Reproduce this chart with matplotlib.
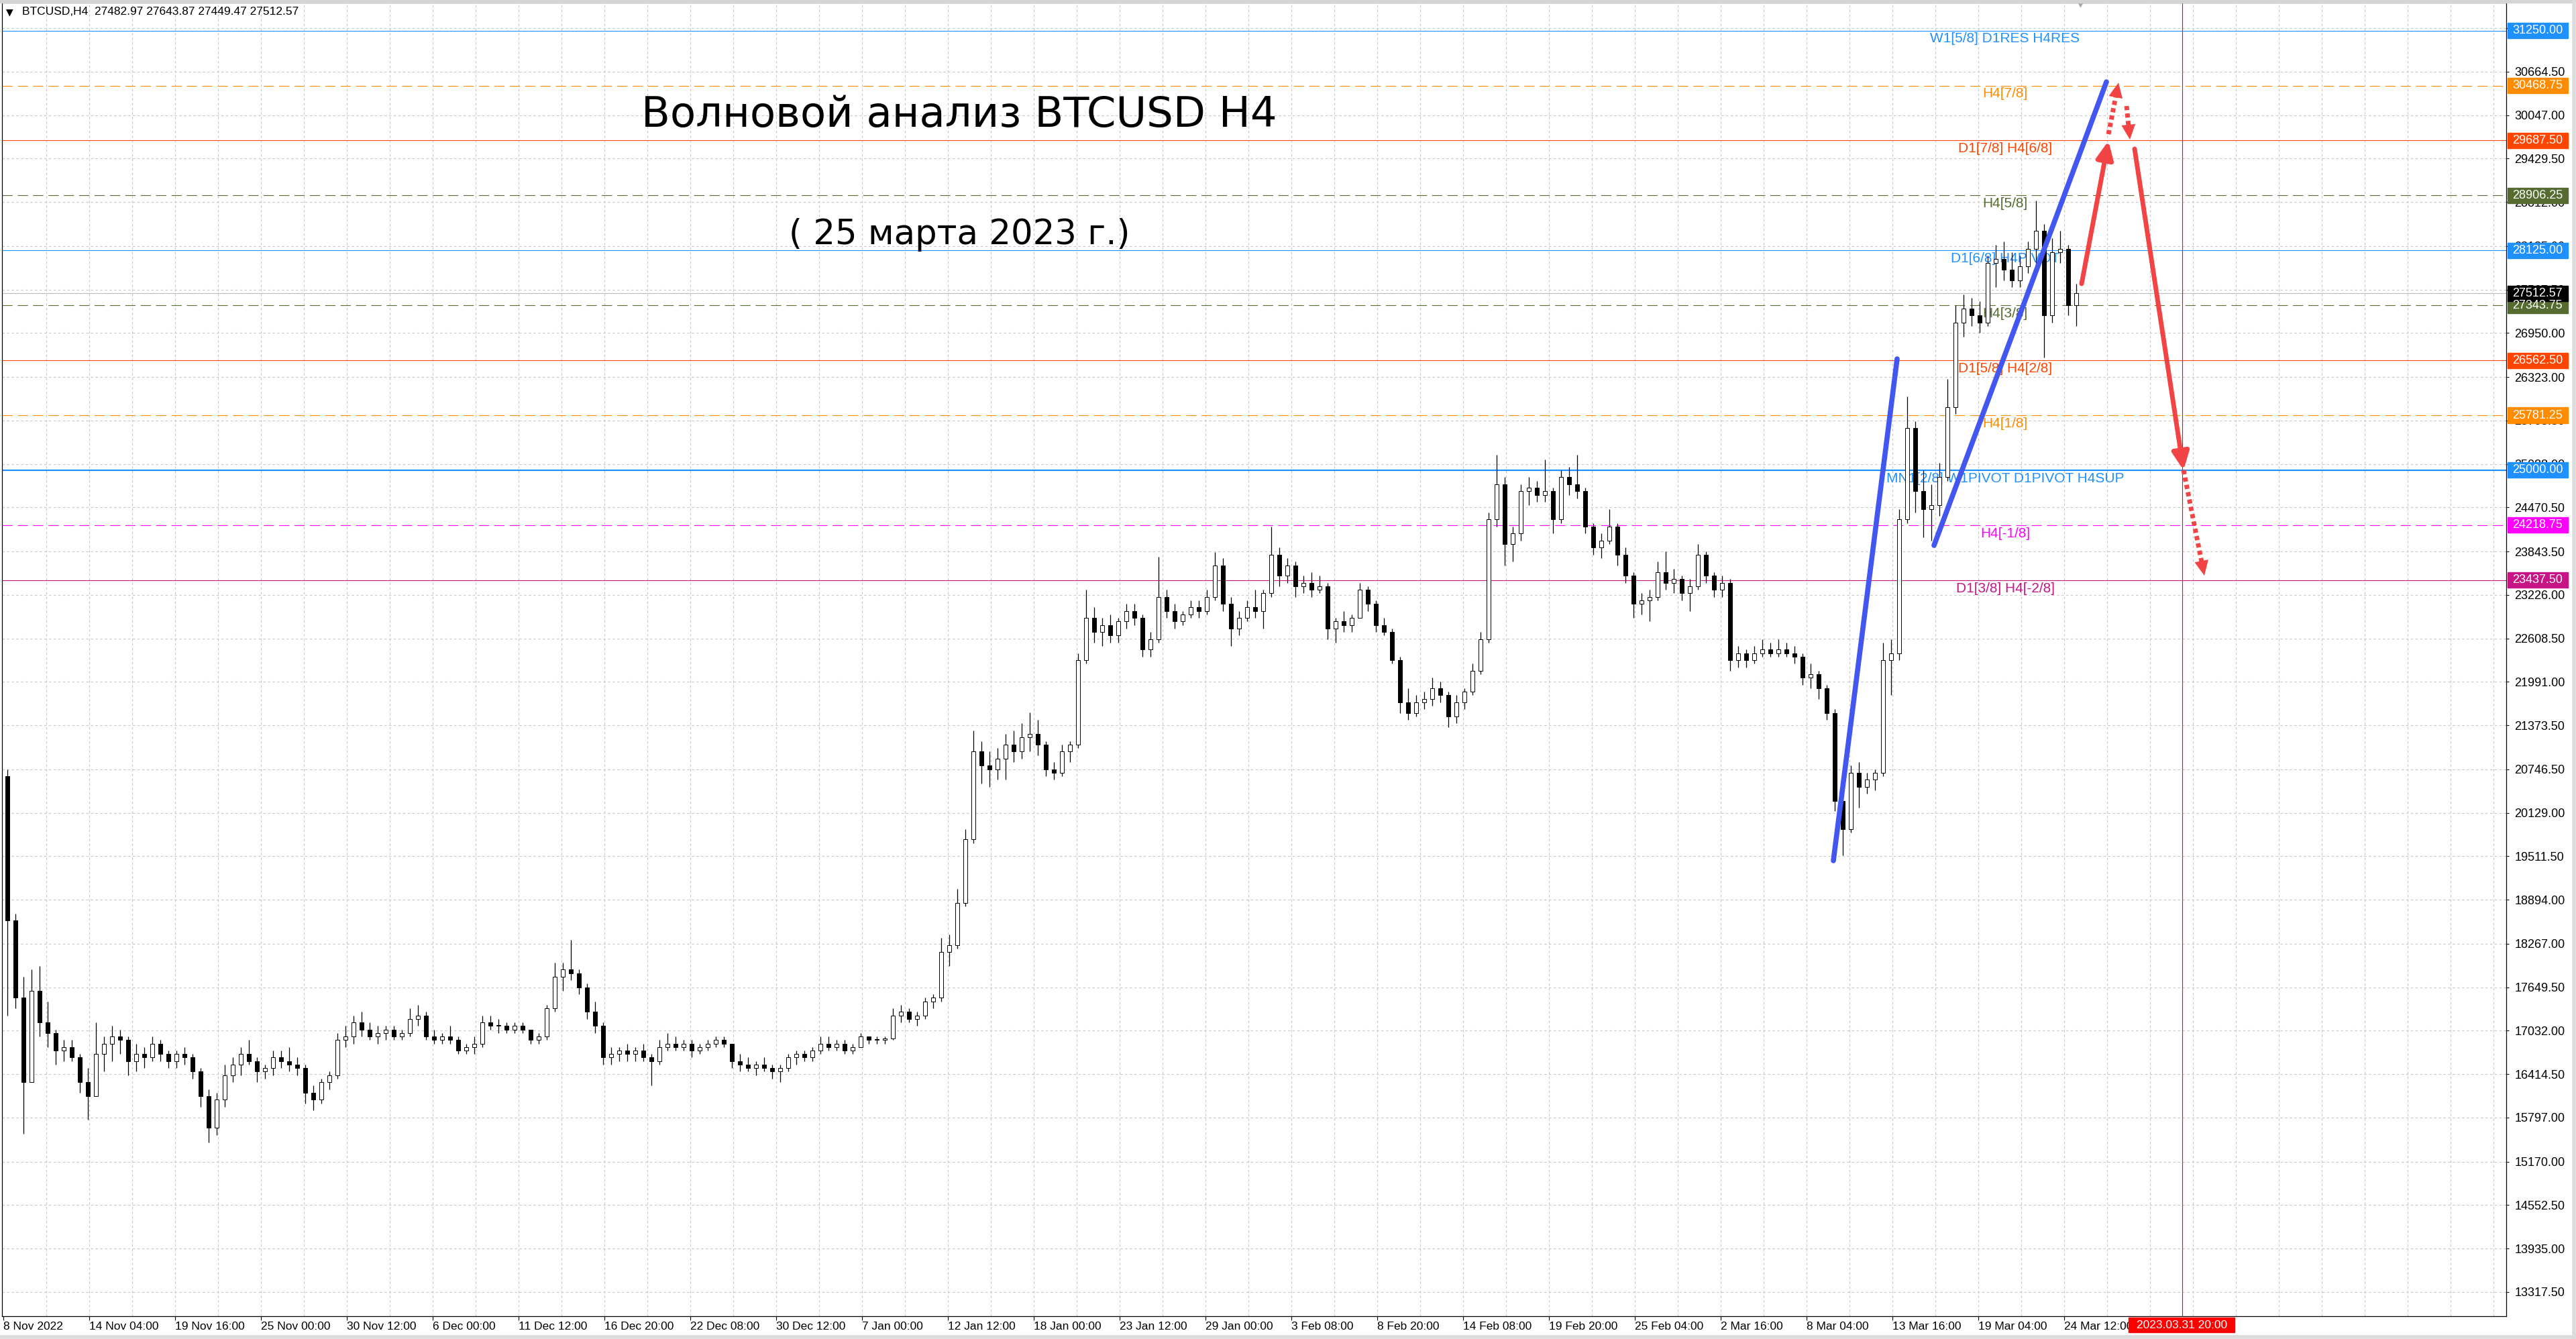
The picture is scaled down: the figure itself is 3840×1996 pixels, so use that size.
import matplotlib
matplotlib.use("Agg")
import matplotlib.pyplot as plt
from matplotlib.patches import Rectangle, FancyArrowPatch
from matplotlib.lines import Line2D
from matplotlib.transforms import blended_transform_factory

plt.rcParams['font.family'] = ['Liberation Sans', 'DejaVu Sans']
plt.rcParams['lines.scale_dashes'] = False

opens = [20650, 18600, 17500, 16300, 17600, 17150, 17000, 16750, 16800, 16650,
         16300, 16100, 16700, 16850, 16950, 16900, 16600, 16700, 16650, 16850,
         16700, 16600, 16700, 16650, 16450, 16100, 15650, 16050, 16400, 16550,
         16700, 16600, 16450, 16500, 16650, 16600, 16550, 16500, 16150, 16050,
         16300, 16400, 16900, 16950, 17150, 17050, 16950, 17000, 17050, 16950,
         17000, 17200, 17250, 16950, 16900, 16950, 16900, 16750, 16800, 16850,
         17150, 17100, 17100, 17050, 17100, 17050, 16900, 16950, 17350, 17800,
         17900, 17850, 17650, 17300, 17100, 16650, 16700, 16750, 16700, 16750,
         16650, 16600, 16800, 16850, 16800, 16850, 16750, 16800, 16850, 16900,
         16850, 16600, 16550, 16500, 16550, 16500, 16450, 16500, 16650, 16700,
         16650, 16750, 16850, 16800, 16850, 16750, 16800, 16950, 16900, 16900,
         16920, 17250, 17300, 17200, 17250, 17450, 17500, 18150, 18250, 18850,
         19750, 21000, 20800, 20750, 20900, 21100, 21000, 21200, 21250, 21100,
         20750, 20700, 21000, 21100, 22300, 22900, 22700, 22800, 22650, 22850,
         23000, 22900, 22450, 22600, 23200, 23000, 22850, 22950, 23050, 23000,
         23200, 23650, 23100, 22750, 22900, 23050, 23000, 23250, 23800, 23500,
         23650, 23350, 23400, 23300, 23350, 22750, 22850, 22800, 22900, 23300,
         23100, 22800, 22700, 22300, 21700, 21550, 21700, 21750, 21900, 21800,
         21500, 21700, 21850, 22150, 22600, 24300, 24800, 23950, 24100, 24700,
         24750, 24650, 24700, 24300, 24900, 24800, 24700, 24200, 23900, 24000,
         24200, 23800, 23500, 23100, 23150, 23200, 23550, 23400, 23450, 23250,
         23350, 23800, 23500, 23300, 23400, 22300, 22400, 22300, 22400, 22450,
         22400, 22450, 22400, 22350, 22050, 22100, 21900, 21550, 20300, 19900,
         20700, 20500, 20600, 20700, 22300, 22400, 24300, 25600, 24700, 24450,
         24500, 24900, 25900, 27100, 27300, 27200, 27100, 27950, 28000, 27850,
         27700, 27900, 28150, 28400, 27200, 28100, 28150, 27350]
highs = [20750, 18700, 17800, 17900, 17950, 17450, 17050, 16900, 16900, 16700,
         16500, 17150, 16950, 17100, 17050, 16950, 16850, 16800, 16950, 16900,
         16750, 16750, 16800, 16700, 16500, 16200, 16150, 16550, 16650, 16800,
         16900, 16650, 16550, 16750, 16750, 16800, 16650, 16550, 16250, 16350,
         16450, 17000, 17100, 17250, 17300, 17150, 17100, 17100, 17100, 17050,
         17350, 17400, 17300, 17050, 17000, 17100, 16950, 16850, 16950, 17250,
         17250, 17200, 17150, 17150, 17150, 17050, 17000, 17400, 18000, 18000,
         18320, 17900, 17700, 17450, 17150, 16800, 16800, 16850, 16800, 16850,
         16700, 16900, 17000, 16950, 16900, 16900, 16850, 16900, 16950, 16950,
         16850, 16700, 16650, 16600, 16650, 16550, 16550, 16700, 16750, 16750,
         16800, 16950, 16950, 16900, 16900, 16850, 17000, 16950, 16950, 16950,
         17350, 17400, 17350, 17300, 17500, 17550, 18350, 18400, 19050, 19900,
         21300, 21150, 21000, 21050, 21250, 21300, 21400, 21560, 21450, 21150,
         20850, 21100, 21150, 22400, 23300, 23050, 22900, 22950, 22900, 23100,
         23100, 22950, 22700, 23770, 23300, 23100, 23000, 23150, 23150, 23300,
         23840, 23750, 23200, 23000, 23150, 23300, 23300, 24200, 23900, 23750,
         23700, 23500, 23550, 23500, 23400, 22900, 23000, 22950, 23400, 23350,
         23150, 22900, 22750, 22350, 21900, 21800, 21850, 22050, 22000, 21850,
         21800, 21900, 22250, 22700, 24400, 25220, 24900, 24200, 24800, 24900,
         24850, 25150, 24750, 25000, 25050, 25220, 24750, 24250, 24100, 24450,
         24250, 23900, 23550, 23250, 23300, 23700, 23850, 23600, 23500, 23450,
         23950, 23850, 23550, 23500, 23450, 22500, 22450, 22500, 22600, 22550,
         22600, 22550, 22500, 22400, 22250, 22150, 21950, 21600, 20500, 20800,
         20850, 20700, 20750, 22550, 22600, 24450, 26050, 25700, 25000, 24800,
         25100, 26300, 27350, 27500, 27450, 27400, 28050, 28200, 28250, 28100,
         28050, 28250, 28830, 28500, 28300, 28400, 28200, 27650]
lows = [17250, 17350, 15570, 16300, 16950, 16800, 16550, 16600, 16600, 16150,
        15770, 16100, 16450, 16600, 16700, 16400, 16450, 16500, 16600, 16600,
        16500, 16500, 16550, 16350, 15950, 15440, 15550, 15950, 16300, 16400,
        16550, 16300, 16350, 16400, 16500, 16450, 16400, 16000, 15900, 16000,
        16200, 16350, 16800, 16850, 16950, 16900, 16850, 16900, 16900, 16900,
        16950, 17100, 16900, 16850, 16850, 16850, 16700, 16700, 16700, 16800,
        17050, 17000, 17000, 17000, 17000, 16850, 16850, 16900, 17300, 17600,
        17750, 17550, 17200, 17000, 16550, 16550, 16600, 16600, 16600, 16600,
        16250, 16550, 16750, 16750, 16750, 16650, 16700, 16750, 16800, 16800,
        16500, 16450, 16450, 16400, 16450, 16350, 16300, 16450, 16550, 16600,
        16600, 16700, 16750, 16750, 16700, 16700, 16800, 16850, 16850, 16850,
        16900, 17150, 17150, 17100, 17200, 17350, 17450, 17950, 18200, 18800,
        19700, 20550, 20500, 20600, 20600, 20850, 20900, 21000, 20950, 20650,
        20600, 20650, 20850, 21050, 22250, 22550, 22500, 22550, 22550, 22750,
        22800, 22350, 22350, 22550, 22900, 22750, 22800, 22900, 22900, 22950,
        23150, 23000, 22500, 22650, 22850, 22900, 22750, 23200, 23350, 23400,
        23200, 23250, 23200, 23250, 22600, 22550, 22700, 22700, 22900, 23000,
        22700, 22650, 22250, 21550, 21450, 21500, 21600, 21650, 21700, 21350,
        21400, 21600, 21800, 22100, 22550, 24200, 23650, 23700, 24000, 24500,
        24550, 24550, 24100, 24250, 24650, 24600, 24100, 23800, 23750, 23950,
        23650, 23400, 22900, 22950, 22850, 23150, 23300, 23250, 23150, 23000,
        23300, 23400, 23200, 23200, 22150, 22200, 22200, 22250, 22350, 22350,
        22350, 22350, 22250, 21950, 21900, 21750, 21450, 20150, 19530, 19850,
        20200, 20400, 20450, 20650, 21800, 22300, 24250, 24400, 24050, 24000,
        24350, 24850, 25800, 26900, 27050, 26950, 27050, 27600, 27700, 27600,
        27600, 27800, 27850, 26600, 27100, 27950, 27200, 27050]
closes = [18600, 17500, 16300, 17600, 17150, 17000, 16750, 16800, 16650, 16300,
          16100, 16700, 16850, 16950, 16900, 16600, 16700, 16650, 16850, 16700,
          16600, 16700, 16650, 16450, 16100, 15650, 16050, 16400, 16550, 16700,
          16600, 16450, 16500, 16650, 16600, 16550, 16500, 16150, 16050, 16300,
          16400, 16900, 16950, 17150, 17050, 16950, 17000, 17050, 16950, 17000,
          17200, 17250, 16950, 16900, 16950, 16900, 16750, 16800, 16850, 17150,
          17100, 17100, 17050, 17100, 17050, 16900, 16950, 17350, 17800, 17900,
          17850, 17650, 17300, 17100, 16650, 16700, 16750, 16700, 16750, 16650,
          16600, 16800, 16850, 16800, 16850, 16750, 16800, 16850, 16900, 16850,
          16600, 16550, 16500, 16550, 16500, 16450, 16500, 16650, 16700, 16650,
          16750, 16850, 16800, 16850, 16750, 16800, 16950, 16900, 16900, 16920,
          17250, 17300, 17200, 17250, 17450, 17500, 18150, 18250, 18850, 19750,
          21000, 20800, 20750, 20900, 21100, 21000, 21200, 21250, 21100, 20750,
          20700, 21000, 21100, 22300, 22900, 22700, 22800, 22650, 22850, 23000,
          22900, 22450, 22600, 23200, 23000, 22850, 22950, 23050, 23000, 23200,
          23650, 23100, 22750, 22900, 23050, 23000, 23250, 23800, 23500, 23650,
          23350, 23400, 23300, 23350, 22750, 22850, 22800, 22900, 23300, 23100,
          22800, 22700, 22300, 21700, 21550, 21700, 21750, 21900, 21800, 21500,
          21700, 21850, 22150, 22600, 24300, 24800, 23950, 24100, 24700, 24750,
          24650, 24700, 24300, 24900, 24800, 24700, 24200, 23900, 24000, 24200,
          23800, 23500, 23100, 23150, 23200, 23550, 23400, 23450, 23250, 23350,
          23800, 23500, 23300, 23400, 22300, 22400, 22300, 22400, 22450, 22400,
          22450, 22400, 22350, 22050, 22100, 21900, 21550, 20300, 19900, 20700,
          20500, 20600, 20700, 22300, 22400, 24300, 25600, 24700, 24450, 24500,
          24900, 25900, 27100, 27300, 27200, 27100, 27950, 28000, 27850, 27700,
          27900, 28150, 28400, 27200, 28100, 28150, 27350, 27512.57]

date_labels = ["8 Nov 2022", "14 Nov 04:00", "19 Nov 16:00", "25 Nov 00:00", "30 Nov 12:00",
               "6 Dec 00:00", "11 Dec 12:00", "16 Dec 20:00", "22 Dec 08:00", "30 Dec 12:00",
               "7 Jan 00:00", "12 Jan 12:00", "18 Jan 00:00", "23 Jan 12:00", "29 Jan 00:00",
               "3 Feb 08:00", "8 Feb 20:00", "14 Feb 08:00", "19 Feb 20:00", "25 Feb 04:00",
               "2 Mar 16:00", "8 Mar 04:00", "13 Mar 16:00", "19 Mar 04:00", "24 Mar 12:00"]

price_ticks = [31282.0, 30664.5, 30047.0, 29429.5, 28812.0, 28185.0, 27567.5, 26950.0,
               26323.0, 25705.5, 25088.0, 24470.5, 23843.5, 23226.0, 22608.5, 21991.0,
               21373.5, 20746.5, 20129.0, 19511.5, 18894.0, 18267.0, 17649.5, 17032.0,
               16414.5, 15797.0, 15170.0, 14552.5, 13935.0, 13317.5]

level_prices = [31250, 30468.75, 29687.5, 28906.25, 28125, 27343.75, 26562.5,
                25781.25, 25000, 24218.75, 23437.5]
level_names = ["W1[5/8] D1RES H4RES", "H4[7/8]", "D1[7/8] H4[6/8]", "H4[5/8]",
               "D1[6/8] H4PIVOT", "H4[3/8]", "D1[5/8] H4[2/8]", "H4[1/8]",
               "MN1[2/8] W1PIVOT D1PIVOT H4SUP", "H4[-1/8]", "D1[3/8] H4[-2/8]"]
level_colors = ["#1E90FF", "#FF8C00", "#FF4500", "#556B2F", "#1E90FF", "#556B2F",
                "#FF4500", "#FF8C00", "#1E90FF", "#FF00FF", "#C71585"]
level_dashed = [False, True, False, True, False, True, False, True, False, True, False]

last_price = 27512.57
ohlc_header = "BTCUSD,H4  27482.97 27643.87 27449.47 27512.57"
bars_per_candle = 3  # une bougie = 3 barres H4
bars_per_label = 32
target_bar = 812     # 2023.03.31 20:00
target_label = "2023.03.31 20:00"

# vagues (barre, prix)
blue_wave_1 = ([682, 705.75], [19449, 26583])
blue_wave_2 = ([719.5, 783.75], [23931, 30521])
red_arrows = [  # x0, y0, x1, y1, pointillé
    (774.5, 27651, 784.5, 29682, False),
    (784.5, 29777, 788.25, 30510, True),
    (791.25, 30178, 792.5, 29701, True),
    (794.25, 29568, 812.5, 25000, False),
    (812.5, 25000, 820.25, 23502, True),
]

# --- Figure ---
W, H = 3840, 1996
fig = plt.figure(figsize=(W / 100, H / 100), dpi=100)
ax = fig.add_axes([3 / W, 34 / H, 3733 / W, 1958 / H])
ax.set_xlim(-0.5, 932.75)
ax.set_ylim(12973.4, 31646.8)

grid_kw = dict(color="#C8C8C8", linewidth=0.8, linestyle=(0, (2.5, 2.5)))
for p in price_ticks:
    ax.axhline(p, zorder=0.5, **grid_kw)
for xg in range(16, 933, 16):
    ax.axvline(xg, zorder=0.5, **grid_kw)

# niveaux Murrey
for p, name, c, dashed in zip(level_prices, level_names, level_colors, level_dashed):
    lw = 1.6 if p == 25000 else 0.8
    if dashed:
        ax.axhline(p, color=c, lw=lw, linestyle=(0, (11, 5.5)), zorder=1)
    else:
        ax.axhline(p, color=c, lw=lw, zorder=1)
    ax.annotate(name, xy=(746, p), xytext=(0, -2), textcoords="offset points",
                ha="center", va="top", color=c, fontsize=15, zorder=1.5)
ax.axhline(last_price, color="#C0C0C0", lw=0.9, zorder=1)
ax.axvline(target_bar, color="red", lw=0.8, zorder=1)

# bougies
xs = [bars_per_candle * i + bars_per_candle / 2 for i in range(len(opens))]
ax.vlines(xs, lows, highs, color="black", lw=0.9, zorder=3)
bottoms = [min(o, c) for o, c in zip(opens, closes)]
heights = [max(abs(c - o), 12) for o, c in zip(opens, closes)]
faces = ["white" if c >= o else "black" for o, c in zip(opens, closes)]
ax.bar(xs, heights, bottom=bottoms, width=1.7, color=faces, edgecolor="black",
       linewidth=0.7, zorder=3.5)

# vagues bleues
for wx, wy in (blue_wave_1, blue_wave_2):
    ax.plot(wx, wy, color="#4356F0", lw=5.5, solid_capstyle="round", zorder=4)

# flèches rouges
red = "#F24444"
head = "-|>,head_length=1.6,head_width=0.75"
for x0, y0, x1, y1, dotted in red_arrows:
    if not dotted:
        ax.add_patch(FancyArrowPatch((x0, y0), (x1, y1), arrowstyle=head, mutation_scale=10,
                                     color=red, lw=5, shrinkA=0, shrinkB=0, zorder=5))
    else:
        p0 = ax.transData.transform((x0, y0))
        p1 = ax.transData.transform((x1, y1))
        length = ((p1[0] - p0[0]) ** 2 + (p1[1] - p0[1]) ** 2) ** 0.5
        f = 1 - 21 / length
        xm, ym = x0 + (x1 - x0) * f, y0 + (y1 - y0) * f
        ax.plot([x0, xm], [y0, ym], color=red, lw=5, linestyle=(0, (4.5, 3.5)),
                solid_capstyle="butt", zorder=5)
        ax.add_patch(FancyArrowPatch((xm, ym), (x1, y1), arrowstyle=head, mutation_scale=10,
                                     color=red, lw=0, shrinkA=0, shrinkB=0, zorder=5))

# axes
ax.set_xticks([bars_per_label * i for i in range(len(date_labels))])
ax.set_xticklabels(date_labels, ha="left", fontsize=12.5)
ax.tick_params(axis="x", direction="out", length=4, width=0.8, pad=2)
ax.yaxis.tick_right()
ax.set_yticks(price_ticks)
ax.set_yticklabels([f"{p:.2f}" for p in price_ticks], fontsize=13)
ax.tick_params(axis="y", direction="out", length=3, width=0.8, pad=6)
for s in ax.spines.values():
    s.set_color("black")
    s.set_linewidth(0.9)

# étiquettes de prix à droite
tr = blended_transform_factory(ax.transAxes, ax.transData)
tags = list(zip(level_prices, level_colors)) + [(last_price, "black")]
for p, c in tags:
    ax.add_patch(Rectangle((1.0005, p - 110), 0.0241, 220, transform=tr, color=c,
                           clip_on=False, zorder=6))
    ax.text(1.0125, p, f"{p:.2f}", transform=tr, ha="center", va="center",
            color="white", fontsize=13, zorder=7, clip_on=False)

trx = blended_transform_factory(ax.transData, ax.transAxes)
ax.add_patch(Rectangle((792, -0.0123), 39.5, 0.0113, transform=trx, color="red",
                       clip_on=False, zorder=6))
ax.text(target_bar, -0.0067, target_label, transform=trx, ha="center", va="center",
        color="white", fontsize=12.5, zorder=7, clip_on=False)

ax.plot([774], [31646.8], marker="v", color="#A8A8A8", markersize=9, clip_on=False, zorder=6)

# textes
fig.text(9 / W, 1 - 18 / H, "▼", fontsize=10, va="center", family=["DejaVu Sans"])
fig.text(33 / W, 1 - 18 / H, ohlc_header, fontsize=12.5, va="center")
fig.text(1430 / W, 1 - 172 / H, "Волновой анализ BTCUSD H4", fontsize=45,
         ha="center", va="center", family=["DejaVu Sans"])
fig.text(1430 / W, 1 - 350 / H, "( 25 марта 2023 г.)", fontsize=37,
         ha="center", va="center", family=["DejaVu Sans"])

# cadre de la fenêtre
fig.add_artist(Rectangle((0, 1 - 4 / H), 1, 4 / H, transform=fig.transFigure, color="#D4D4D4"))
fig.add_artist(Line2D([1 - 3 / W, 1 - 3 / W], [0, 1], transform=fig.transFigure, color="#DCDCDC", lw=4))
fig.add_artist(Line2D([0, 1], [3 / H, 3 / H], transform=fig.transFigure, color="#DCDCDC", lw=4))

fig.savefig("out.png", dpi=100)
